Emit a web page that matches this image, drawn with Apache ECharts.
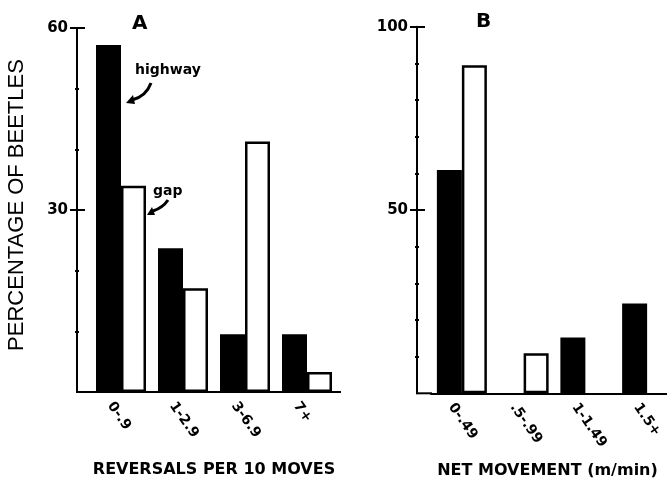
<!DOCTYPE html>
<html><head><meta charset="utf-8">
<script src="https://cdn.jsdelivr.net/npm/echarts@6/dist/echarts.min.js"></script>
<style>html,body{margin:0;padding:0;background:#fff}#c{width:667px;height:479px}</style>
</head><body><div id="c"></div>
<script>
const catsA = ['0-.9', '1-2.9', '3-6.9', '7+'];
const highwayA = [57.2, 23.7, 9.5, 9.5];
const gapA = [34.0, 17.1, 41.3, 3.3];
const catsB = ['0-.49', '.5-.99', '1-1.49', '1.5+'];
const highwayB = [60.9, null, 15.2, 24.5];
const gapB = [89.5, 10.9, null, null];
const ticksA = { min: 0, max: 60, interval: 30, shown: [30, 60] };
const ticksB = { min: 0, max: 100, interval: 50, shown: [50, 100] };

const FONT = '"Liberation Sans", Arial, sans-serif';
const BFONT = '"DejaVu Sans", "Liberation Sans", sans-serif';
const chart = echarts.init(document.getElementById('c'), null, { renderer: 'canvas' });

function yAx(grid, t, minorSplit, offset, inside, name) {
  return {
    type: 'value', gridIndex: grid, min: t.min, max: t.max, interval: t.interval,
    position: 'left', offset: offset,
    axisLine: { show: !inside, lineStyle: { color: '#000', width: 2 } },
    axisTick: { show: true, inside: inside, customValues: t.shown, length: inside ? 8 : 7, lineStyle: { color: '#000', width: 2 } },
    minorTick: { show: true, splitNumber: minorSplit, length: 2, lineStyle: { color: '#000', width: 2 } },
    axisLabel: { show: !inside, customValues: t.shown, color: '#000', fontFamily: BFONT, fontWeight: 'bold', fontSize: 15, margin: 9 },
    splitLine: { show: false },
    name: inside ? '' : name, nameLocation: 'middle', nameRotate: 90, nameGap: 49,
    nameTextStyle: { color: '#000', fontFamily: FONT, fontSize: 22, padding: [0, 0, 0, 10] }
  };
}
function xAx(grid, cats, name, pad) {
  return {
    type: 'category', gridIndex: grid, data: cats,
    axisLine: { lineStyle: { color: '#000', width: 2 } },
    axisTick: { show: false },
    axisLabel: { rotate: -55, verticalAlign: 'top', padding: [6, 0, 0, 0], color: '#000', fontFamily: BFONT, fontWeight: 'bold', fontSize: 14, margin: 4 },
    name: name, nameLocation: 'middle', nameGap: 70,
    nameTextStyle: { color: '#000', fontFamily: BFONT, fontWeight: 'bold', fontSize: 16, padding: pad }
  };
}
const blackStyle = { color: '#000' };
const whiteStyle = { color: '#fff', borderColor: '#000', borderWidth: 2.5 };
function bar(x, y, data, style) {
  return { type: 'bar', xAxisIndex: x, yAxisIndex: y, data: data, barWidth: 25, barGap: '0%', itemStyle: style, animation: false, silent: true };
}

chart.setOption({
  backgroundColor: '#fff',
  animation: false,
  title: [
    { text: 'A', left: 127, top: 9, textStyle: { fontFamily: BFONT, fontWeight: 'bold', fontSize: 20, color: '#000' } },
    { text: 'B', left: 471, top: 7, textStyle: { fontFamily: BFONT, fontWeight: 'bold', fontSize: 20, color: '#000' } }
  ],
  grid: [
    { left: 90, top: 28, width: 248, height: 364, outerBoundsMode: 'none', containLabel: false },
    { left: 431, top: 26.7, width: 247, height: 366.6, outerBoundsMode: 'none', containLabel: false }
  ],
  xAxis: [xAx(0, catsA, 'REVERSALS PER 10 MOVES', [0, 0, 0, 0]), xAx(1, catsB, 'NET MOVEMENT (m/min)', [0, 14, 0, 0])],
  yAxis: [
    yAx(0, ticksA, 3, 13, false, 'PERCENTAGE OF BEETLES'),
    yAx(0, ticksA, 3, 13, true, ''),
    yAx(1, ticksB, 5, 14, false, ''),
    yAx(1, ticksB, 5, 14, true, '')
  ],
  series: [
    bar(0, 0, highwayA, blackStyle),
    bar(0, 0, gapA, whiteStyle),
    bar(1, 2, highwayB, blackStyle),
    bar(1, 2, gapB, whiteStyle)
  ],
  graphic: [
    { type: 'line', shape: { x1: 76, y1: 392, x2: 91, y2: 392 }, style: { stroke: '#000', lineWidth: 2 } },
    { type: 'line', shape: { x1: 337, y1: 392, x2: 341, y2: 392 }, style: { stroke: '#000', lineWidth: 2 } },
    { type: 'line', shape: { x1: 416, y1: 393.3, x2: 432, y2: 393.3 }, style: { stroke: '#000', lineWidth: 2 } },
    { type: 'text', x: 135, y: 63, style: { text: 'highway', font: 'bold 14px "DejaVu Sans", sans-serif', fill: '#000' } },
    { type: 'text', x: 153, y: 184, style: { text: 'gap', font: 'bold 14px "DejaVu Sans", sans-serif', fill: '#000' } },
    { type: 'bezierCurve', shape: { x1: 151, y1: 83, cpx1: 147, cpy1: 94, cpx2: 140, cpy2: 98, x2: 132, y2: 100 }, style: { stroke: '#000', lineWidth: 3, fill: null } },
    { type: 'polygon', shape: { points: [[126,103],[133,95],[135,104]] }, style: { fill: '#000' } },
    { type: 'bezierCurve', shape: { x1: 168, y1: 200, cpx1: 164, cpy1: 206, cpx2: 159, cpy2: 209, x2: 153, y2: 211 }, style: { stroke: '#000', lineWidth: 3, fill: null } },
    { type: 'polygon', shape: { points: [[147,215],[152,207],[155,215]] }, style: { fill: '#000' } }
  ]
});
</script></body></html>
